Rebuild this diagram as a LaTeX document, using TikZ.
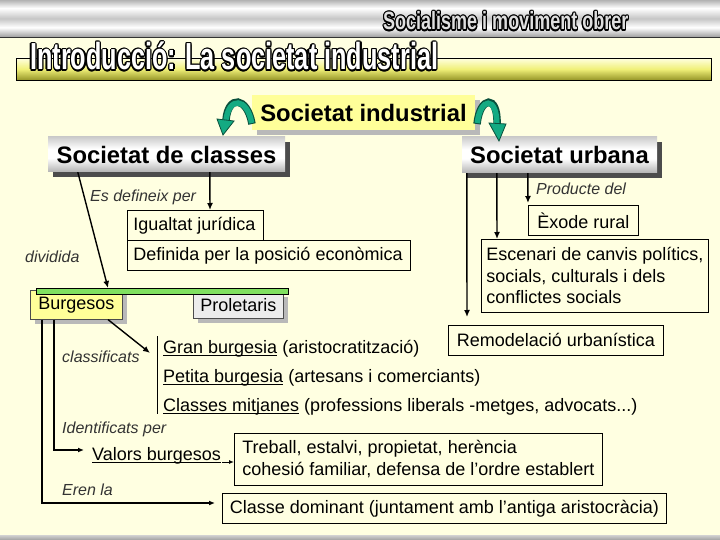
\documentclass[tikz,border=0pt]{standalone}
\usepackage{fontspec}
\setmainfont{Liberation Sans}
\newfontfamily\condfont{Liberation Sans}[FakeStretch=0.67]
\newfontfamily\condfontb{Liberation Sans}[FakeStretch=0.72]
\newsavebox\ulbox
\newcommand\myul[1]{\sbox\ulbox{#1}\rlap{\rule[-3.2pt]{\wd\ulbox}{1.3pt}}\usebox\ulbox}
\usetikzlibrary{arrows.meta,calc,shadows}
\definecolor{bg}{RGB}{255,255,225}
\definecolor{yelbox}{RGB}{255,255,153}
\definecolor{greenbar}{RGB}{128,224,96}
\definecolor{arrteal}{RGB}{20,170,130}
\definecolor{arrdark}{RGB}{10,80,60}
\definecolor{tbA}{RGB}{255,255,225}
\definecolor{tbB}{RGB}{240,240,120}
\definecolor{tbC}{RGB}{150,150,40}
\pgfdeclareverticalshading{topband}{100bp}{color(0bp)=(gray!75); color(25bp)=(gray!75); color(38bp)=(white); color(50bp)=(gray!45); color(64bp)=(white); color(75bp)=(gray!60); color(100bp)=(gray!60)}
\pgfdeclareverticalshading{boxmetal}{100bp}{color(0bp)=(gray!60); color(25bp)=(gray!60); color(45bp)=(white); color(58bp)=(white); color(75bp)=(gray!40); color(100bp)=(gray!40)}
\pgfdeclareverticalshading{titlebar}{100bp}{color(0bp)=(tbC); color(25bp)=(tbC); color(50bp)=(tbB); color(75bp)=(tbA); color(100bp)=(tbA)}
\begin{document}
\begin{tikzpicture}[x=1pt,y=-1pt,
  lab/.style={font=\fontsize{16}{19}\selectfont\itshape, inner sep=0pt, text=black!80},
  bodytext/.style={font=\fontsize{18}{22}\selectfont, inner sep=0pt},
  tbox/.style={draw=black, line width=0.9pt, fill=bg, font=\fontsize{18}{22}\selectfont, inner sep=0pt, anchor=north west},
  headbox/.style={font=\bfseries\fontsize{23.8}{28}\selectfont, inner sep=0pt},
  conn/.style={line width=1.4pt, -{Latex[length=7pt,width=6pt]}},
  thinconn/.style={line width=1.2pt, -{Latex[length=6pt,width=5pt]}},
  boxshadow/.style={general shadow={fill=gray!60!black, shadow xshift=5pt, shadow yshift=-5pt}},
  lightshadow/.style={general shadow={fill=gray!55, shadow xshift=5pt, shadow yshift=-5pt}}]
\useasboundingbox (0,0) rectangle (720,540);
\fill[bg] (0,0) rectangle (720,540);
% top and bottom bands
\shade[shading=topband] (0,0) rectangle (720,37);
\draw[gray!40!black, line width=0.6pt] (0,37) -- (720,37);
\shade[top color=gray!35, bottom color=gray!75] (0,535) rectangle (720,540);
% header texts
\foreach \a in {0,30,...,330}
  \node[font=\condfontb\bfseries\fontsize{25}{28}\selectfont, text=black, anchor=base west, inner sep=0pt] at ($(383,30)+(\a:1.2pt)$) {Socialisme i moviment obrer};
\node[font=\condfontb\bfseries\fontsize{25}{28}\selectfont, text=gray!25, anchor=base west, inner sep=0pt] (soc) at (383,30) {Socialisme i moviment obrer};
% title bar
\shadedraw[shading=titlebar, draw=black, line width=0.8pt] (16,58) rectangle (711,80);
\foreach \a in {0,30,...,330}
  \node[font=\condfont\bfseries\fontsize{37.7}{40}\selectfont, text=black, anchor=base west, inner sep=0pt] at ($(30,70)+(\a:1.3pt)$) {Introducció: La societat industrial};
\node[font=\condfont\bfseries\fontsize{37.7}{40}\selectfont, text=white, anchor=base west, inner sep=0pt] (title) at (30,70) {Introducció: La societat industrial};
% main header boxes
\node[headbox, fill=yelbox, minimum width=223pt, minimum height=35pt, lightshadow] (si) at (363.5,112.5) {Societat industrial};
\node[headbox, shade, shading=boxmetal, minimum width=237pt, minimum height=35pt, boxshadow] (sc) at (166.5,154.5) {Societat de classes};
\node[headbox, shade, shading=boxmetal, minimum width=195pt, minimum height=36pt, boxshadow] (su) at (559.5,155) {Societat urbana};
% green curved arrows
\draw[line width=7.5pt, arrdark] (252,124) .. controls (247,96) and (228,95) .. (226,120);
\draw[line width=5.5pt, arrteal] (251.7,123) .. controls (247,97.2) and (228.6,96.4) .. (226,120.5);
\filldraw[fill=arrteal, draw=arrdark, line width=0.8pt] (217,119) -- (234,121) -- (223,135) -- cycle;
\draw[line width=7.5pt, arrdark] (477,124) .. controls (480,96) and (498,94) .. (497,124);
\draw[line width=5.5pt, arrteal] (477.3,123) .. controls (480.3,97.2) and (497,95.6) .. (496.8,124.5);
\filldraw[fill=arrteal, draw=arrdark, line width=0.8pt] (489,123) -- (506,124) -- (499,141) -- cycle;
% left side
\node[lab, anchor=west] (es) at (90,197) {Es defineix per};
\node[tbox, minimum width=136pt, minimum height=30pt] (ig) at (127,210) {\makebox[124pt][l]{Igualtat jurídica}};
\node[tbox, minimum width=283pt, minimum height=30pt] (def) at (127,240) {\makebox[271pt][l]{Definida per la posició econòmica}};
\node[lab, anchor=west] (div) at (25,257) {dividida};
\node[draw=gray!60!black, line width=0.6pt, fill=yelbox, minimum width=92pt, minimum height=29pt, anchor=north west, inner sep=0pt, font=\fontsize{18}{22}\selectfont, lightshadow] (bu) at (30,290) {Burgesos};
\node[draw=gray!60!black, line width=0.6pt, fill=gray!15, minimum width=90pt, minimum height=26pt, anchor=north west, inner sep=0pt, font=\fontsize{18}{22}\selectfont, lightshadow] (pr) at (193,292) {Proletaris};
\node[draw=black, line width=0.6pt, fill=greenbar, minimum width=252pt, minimum height=6pt, inner sep=0pt, anchor=north west] (bar) at (36,288) {};
\node[lab, anchor=west] (cl) at (62,357) {classificats};
\node[bodytext, anchor=base west] (gb) at (163,353) {\myul{Gran burgesia} (aristocratització)};
\node[bodytext, anchor=base west] (pb) at (163,382) {\myul{Petita burgesia} (artesans i comerciants)};
\node[bodytext, anchor=base west] (cm) at (163,411) {\myul{Classes mitjanes} (professions liberals -metges, advocats...)};
\node[lab, anchor=west] (id) at (62,429) {Identificats per};
\node[bodytext, anchor=base west] (vb) at (92,460) {\myul{Valors burgesos}};
\node[tbox, minimum width=368pt, minimum height=52pt, align=left] (tr) at (234,433) {Treball, estalvi, propietat, herència\\cohesió familiar, defensa de l’ordre establert};
\node[lab, anchor=west] (er) at (62,490) {Eren la};
\node[tbox, minimum width=444pt, minimum height=30pt] (cd) at (222,493) {Classe dominant (juntament amb l’antiga aristocràcia)};
% right side
\node[lab, anchor=west] (pd) at (536,189) {Producte del};
\node[tbox, minimum width=110pt, minimum height=30pt] (ex) at (528,205) {Èxode rural};
\node[tbox, minimum width=227pt, minimum height=73pt, align=left, font=\fontsize{18}{21.5}\selectfont] (esc) at (481,239) {Escenari de canvis polítics,\\socials, culturals i dels\\conflictes socials};
\node[tbox, minimum width=215pt, minimum height=30pt] (rem) at (448,325) {Remodelació urbanística};
% connectors
\draw[conn] ($(sc.south west)+(30,0)$) -- ($(bar.north west)+(72,0)$);
\draw[conn] ($(sc.south west)+(162,0)$) -- ($(ig.north west)+(83,0)$);
\draw[conn, shorten >=8pt] ($(su.south west)+(5,0)$) -- ($(rem.north west)+(19,0)$);
\draw[conn] ($(su.south west)+(35,0)$) -- ($(esc.north west)+(16,0)$);
\draw[conn, shorten >=2pt] ($(su.south west)+(66,0)$) -- ($(ex.north west)+(0,0)$);
\draw[conn] ($(bu.south west)+(78,0)$) -- ($(gb.base west)+(-13,0)$);
\draw[line width=0.8pt] ($(gb.base west)+(-6,-17)$) -- ($(cm.base west)+(-6,3)$);
\draw[thinconn] ($(bu.south west)+(12,0)$) |- ($(cd.north west)+(-7,10)$);
\draw[thinconn] ($(bu.south west)+(24,0)$) |- ($(vb.base west)+(-8,-10)$);
\draw[line width=1pt, -{Latex[length=5pt,width=4pt]}] ($(vb.base east)+(1,2)$) -- ($(tr.north west)+(0,29)$);
\end{tikzpicture}
\end{document}
